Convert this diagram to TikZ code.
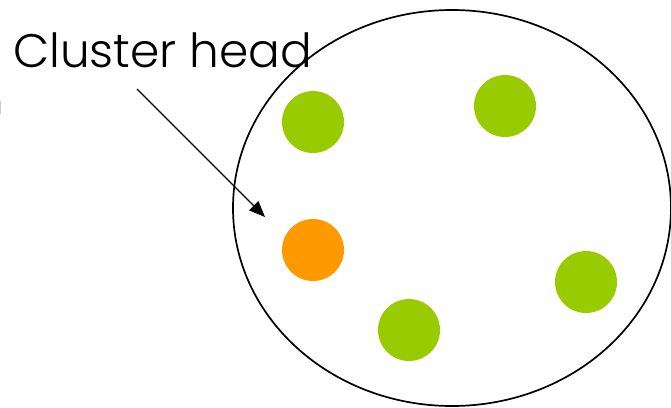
\documentclass[tikz,border=0pt]{standalone}
\usepackage{fontspec}
\setmainfont{Poppins Light}
\usetikzlibrary{arrows.meta,positioning}
\definecolor{headorange}{RGB}{255,153,0}
\definecolor{membergreen}{RGB}{153,204,0}

\begin{document}
\begin{tikzpicture}[x=1pt,y=-1pt,
    member/.style={circle,fill=membergreen,minimum size=62pt,inner sep=0pt},
    head/.style={circle,fill=headorange,minimum size=62pt,inner sep=0pt}]
      \useasboundingbox (0,0) rectangle (671,407);
      \clip (0,0) rectangle (671,407);
      % cluster boundary
      \draw[line width=1.7pt] (452,208) ellipse [x radius=219pt, y radius=198pt];
      % member nodes
      \node[member] (m1) at (313,122) {};
      \node[member] (m2) at (505,106) {};
      \node[member] (m3) at (409,330) {};
      \node[member] (m4) at (586,282) {};
      % cluster head
      \node[head] (ch) at (313,250) {};
      % label
      \node[anchor=base west,inner sep=0pt,font=\fontsize{47}{53}\selectfont] (lbl) at (13,67) {Cluster head};
      \node[anchor=base east,inner sep=0pt,font=\fontsize{38}{44}\selectfont] (cut) at (4,114) {n};
      % pointer
      \coordinate (p0) at (137,89);
      \coordinate (p1) at (265,217);
      \draw[line width=1.2pt,-{Triangle[length=16pt,width=13pt]}] (p0) -- (p1);
    \end{tikzpicture}
\end{document}
